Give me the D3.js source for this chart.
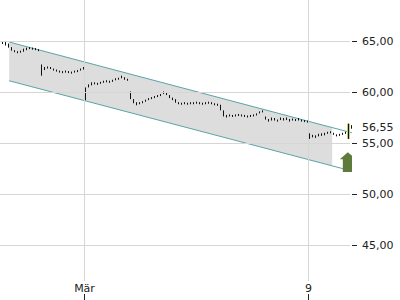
<!DOCTYPE html>
<html>
<head>
<meta charset="utf-8">
<script src="https://cdn.jsdelivr.net/npm/d3@7"></script>
<style>
  body { margin: 0; background: #fff; }
  svg { display: block; font-family: "DejaVu Sans", sans-serif; }
</style>
</head>
<body>
<svg id="chart" width="400" height="300"></svg>
<script>
// trading days, 0 = 1. März, 5 = 9. März
let days = [-2, -1, 0, 1, 2, 3, 4, 5];
let barsPerDay = 15;
let tickDays = [0, 5];
let tickNames = ["Mär", "9"];
let priceTicks = [45, 50, 55, 60, 65];
let lastPrice = 56.55;

let highs = [
  64.95, 65.0, 64.95, 64.9, 64.75, 64.4, 64.1, 64.0, 64.05, 64.25, 64.35, 64.4, 64.35, 64.3, 64.2,
  62.7, 62.45, 62.5, 62.45, 62.3, 62.2, 62.1, 62.05, 62.1, 62.05, 62.0, 62.1, 62.15, 62.3, 62.45,
  60.45, 60.75, 60.95, 60.95, 60.9, 61.0, 61.1, 61.15, 61.1, 61.2, 61.35, 61.4, 61.6, 61.45, 61.3,
  60.05, 59.3, 59.0, 59.0, 59.1, 59.25, 59.4, 59.5, 59.6, 59.7, 59.8, 60.05, 59.9, 59.7, 59.45,
  59.3, 59.0, 58.95, 59.0, 58.95, 59.0, 59.0, 59.05, 59.0, 58.95, 59.0, 59.05, 59.0, 58.9, 58.85,
  58.75, 58.2, 57.75, 57.8, 57.75, 57.8, 57.85, 57.8, 57.75, 57.7, 57.75, 57.8, 57.9, 58.1, 58.2,
  57.6, 57.35, 57.5, 57.45, 57.3, 57.5, 57.45, 57.5, 57.35, 57.4, 57.35, 57.45, 57.3, 57.25, 57.2,
  55.95, 55.8, 55.75, 55.9, 55.95, 56.0, 56.1, 56.15, 56.0, 55.85, 55.9, 56.0, 56.1, 56.9, 56.75
];
let lows = [
  64.65, 64.7, 64.7, 64.55, 64.35, 64.05, 63.9, 63.8, 63.85, 63.95, 64.1, 64.2, 64.15, 64.1, 64.0,
  61.6, 62.15, 62.3, 62.25, 62.1, 62.0, 61.9, 61.85, 61.9, 61.85, 61.8, 61.9, 61.95, 62.1, 62.2,
  59.2, 60.45, 60.65, 60.75, 60.7, 60.8, 60.9, 60.95, 60.9, 61.0, 61.15, 61.2, 61.35, 61.2, 61.1,
  59.3, 58.9, 58.7, 58.8, 58.9, 59.05, 59.2, 59.3, 59.4, 59.5, 59.6, 59.8, 59.7, 59.4, 59.2,
  58.95, 58.8, 58.75, 58.8, 58.75, 58.8, 58.8, 58.85, 58.8, 58.75, 58.8, 58.85, 58.8, 58.7, 58.65,
  58.2, 57.6, 57.5, 57.6, 57.55, 57.6, 57.65, 57.6, 57.55, 57.5, 57.55, 57.6, 57.7, 57.9, 58.0,
  57.3, 57.1, 57.2, 57.2, 57.1, 57.25, 57.2, 57.25, 57.1, 57.2, 57.15, 57.2, 57.1, 57.05, 57.0,
  55.4, 55.55, 55.5, 55.65, 55.7, 55.75, 55.9, 55.95, 55.8, 55.65, 55.7, 55.8, 55.9, 55.4, 56.4
];

// trend channel
let channelDays = [-1.67, 5.98];
let channelTop = [64.9, 56.0];
let channelBottom = [61.1, 52.25];
let channelFillEnd = 5.54;

// buy signal arrow
let arrowTop = 54.1;
let arrowBottom = 52.15;

let gridColor = "#d6d6d6";
let textColor = "#222";
let lineColor = "#5aa3a8";

let svg = d3.select("#chart");
let plotRight = 352;

let x = d3.scaleLinear().domain([-2, 6]).range([-5.6, 352.8]);
let y = d3.scaleLinear().domain([45, 65]).range([245, 41]);

let locale = d3.formatLocale({ decimal: ",", thousands: ".", grouping: [3], currency: ["", "€"] });
let fmt = locale.format(".2f");

svg.append("defs").append("clipPath").attr("id", "plot")
  .append("rect").attr("x", 0).attr("y", 0).attr("width", plotRight).attr("height", 300);

let plot = svg.append("g").attr("clip-path", "url(#plot)");

// channel fill
let interp = function(arr, d) {
  let t = (d - channelDays[0]) / (channelDays[1] - channelDays[0]);
  return arr[0] + t * (arr[1] - arr[0]);
};
let fillPts = [
  [channelDays[0], channelTop[0]],
  [channelFillEnd, interp(channelTop, channelFillEnd)],
  [channelFillEnd, interp(channelBottom, channelFillEnd)],
  [channelDays[0], channelBottom[0]]
];
plot.append("path")
  .attr("d", d3.line().x(d => x(d[0])).y(d => y(d[1]))(fillPts) + "Z")
  .attr("fill", "#dddddd");

// grid
svg.selectAll(".hgrid").data(priceTicks).enter().append("line")
  .attr("class", "hgrid")
  .attr("x1", 0).attr("x2", 350)
  .attr("y1", d => Math.round(y(d)) + 0.5).attr("y2", d => Math.round(y(d)) + 0.5)
  .style("stroke", gridColor);
svg.selectAll(".vgrid").data(tickDays).enter().append("line")
  .attr("class", "vgrid")
  .attr("x1", d => Math.round(x(d)) + 0.5).attr("x2", d => Math.round(x(d)) + 0.5)
  .attr("y1", 0).attr("y2", 281)
  .style("stroke", gridColor);

// channel lines
[channelTop, channelBottom].forEach(function(arr) {
  plot.append("line")
    .attr("x1", x(channelDays[0])).attr("y1", y(arr[0]))
    .attr("x2", x(channelDays[1])).attr("y2", y(arr[1]))
    .style("stroke", lineColor)
    .style("stroke-width", 1);
});

// price bars
let bars = highs.map(function(h, i) {
  let day = days[Math.floor(i / barsPerDay)];
  return { t: day + ((i % barsPerDay) + 0.5) / barsPerDay, hi: h, lo: lows[i] };
});
let last = bars.length - 2;

plot.append("rect")
  .attr("x", Math.round(x(bars[last].t)) - 1)
  .attr("y", y(bars[last].hi))
  .attr("width", 3)
  .attr("height", y(bars[last].lo) - y(bars[last].hi))
  .attr("fill", "#c9c77a");

plot.selectAll(".bar").data(bars).enter().append("line")
  .attr("class", "bar")
  .attr("x1", d => Math.round(x(d.t)) + 0.5).attr("x2", d => Math.round(x(d.t)) + 0.5)
  .attr("y1", d => y(d.hi)).attr("y2", d => Math.max(y(d.lo), y(d.hi) + 2))
  .style("stroke", "#111")
  .style("stroke-width", 1);

// arrow
let ax = x(bars[last].t) - 0.5;
let at = y(arrowTop), ab = y(arrowBottom);
plot.append("path")
  .attr("d", "M" + ax + "," + at + " L" + (ax + 8) + "," + (at + 7) + " L" + (ax + 5) + "," + (at + 7) +
    " L" + (ax + 5) + "," + ab + " L" + (ax - 5) + "," + ab + " L" + (ax - 5) + "," + (at + 7) +
    " L" + (ax - 8) + "," + (at + 7) + "Z")
  .attr("fill", "#5f7b3c");

// y axis labels
svg.selectAll(".ytick").data(priceTicks).enter().append("line")
  .attr("class", "ytick")
  .attr("x1", 352).attr("x2", 357)
  .attr("y1", d => Math.round(y(d)) + 0.5).attr("y2", d => Math.round(y(d)) + 0.5)
  .style("stroke", textColor);
svg.selectAll(".ylabel").data(priceTicks).enter().append("text")
  .attr("class", "ylabel")
  .attr("x", 362)
  .attr("y", d => y(d) + 4)
  .text(d => fmt(d))
  .style("fill", textColor)
  .style("font-size", "11px");
svg.append("text")
  .attr("x", 362)
  .attr("y", y(lastPrice) + 4)
  .text(fmt(lastPrice))
  .style("fill", textColor)
  .style("font-size", "11px");

// x axis
let xAxis = d3.axisBottom(x)
  .tickValues(tickDays)
  .tickFormat((d, i) => tickNames[i])
  .tickSize(0);
let gx = svg.append("g").attr("transform", "translate(0,281)").call(xAxis);
gx.select(".domain").remove();
gx.selectAll("text")
  .attr("dy", 0).attr("y", 11)
  .style("font-family", "DejaVu Sans, sans-serif")
  .style("font-size", "11px")
  .style("fill", textColor);
svg.selectAll(".xtick").data(tickDays).enter().append("line")
  .attr("class", "xtick")
  .attr("x1", d => Math.round(x(d)) + 0.5).attr("x2", d => Math.round(x(d)) + 0.5)
  .attr("y1", 294).attr("y2", 300)
  .style("stroke", textColor);
</script>
</body>
</html>
